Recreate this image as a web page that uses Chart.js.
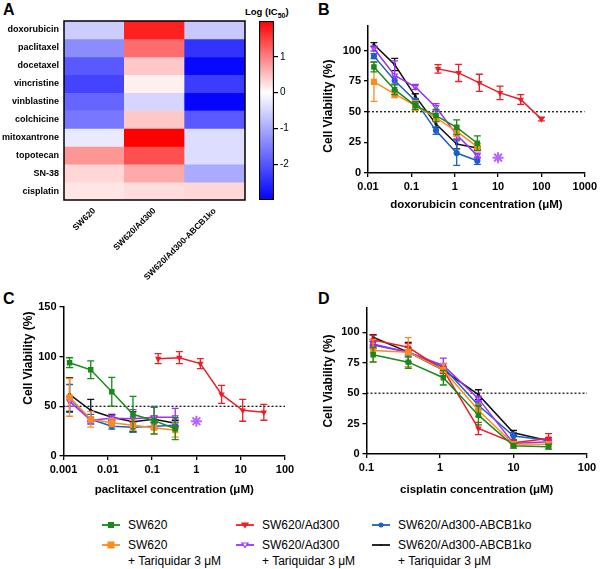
<!DOCTYPE html>
<html><head><meta charset="utf-8">
<script src="https://cdn.jsdelivr.net/npm/chart.js@4.4.1/dist/chart.umd.min.js"></script>
<style>
html,body{margin:0;padding:0;background:#fff;}
body{width:600px;height:569px;position:relative;overflow:hidden;font-family:"Liberation Sans",Arial,sans-serif;color:#000;}
canvas{position:absolute;}
.pl{position:absolute;font-weight:bold;font-size:16px;line-height:16px;}
.ttl{position:absolute;font-weight:bold;font-size:9.5px;white-space:nowrap;}
.leg{position:absolute;font-size:12px;line-height:16px;white-space:nowrap;}
.leg svg{position:absolute;left:0;top:4px;}
.leg span{position:absolute;left:26px;top:0;}
</style></head><body>
<div class="pl" style="left:3px;top:2px">A</div>
<div class="pl" style="left:318px;top:2px">B</div>
<div class="pl" style="left:3px;top:291px">C</div>
<div class="pl" style="left:318px;top:291px">D</div>
<div class="ttl" style="left:245px;top:6px">Log (IC<sub style="font-size:7px">50</sub>)</div>
<canvas id="cA" width="250" height="280" style="left:0;top:0"></canvas>
<canvas id="cBar" width="45" height="210" style="left:255px;top:0"></canvas>
<canvas id="cB" width="300" height="215" style="left:300px;top:0"></canvas>
<canvas id="cC" width="300" height="220" style="left:0;top:280px"></canvas>
<canvas id="cD" width="300" height="220" style="left:300px;top:280px"></canvas>
<div id="legend"></div>
<script>
// ---------- DATA ----------
const drugs = ['doxorubicin','paclitaxel','docetaxel','vincristine','vinblastine','colchicine','mitoxantrone','topotecan','SN-38','cisplatin'];
const cellLines = ['SW620','SW620/Ad300','SW620/Ad300-ABCB1ko'];
const icSW620 = [-0.6,-1.35,-1.95,-2.2,-1.8,-1.6,-0.25,0.82,0.31,0.2];
const icAd300 = [1.75,1.15,0.43,0.12,-0.5,0.43,2.0,1.37,0.67,0.27];
const icKO    = [-0.65,-2.4,-2.9,-2.3,-2.95,-1.95,-0.4,-0.4,-1.0,0.31];
const colorbarRange = [-3, 2];
const colorbarTicks = [-2,-1,0,1];

const seriesNames = ['SW620','SW620\n+ Tariquidar 3 μM','SW620/Ad300','SW620/Ad300\n+ Tariquidar 3 μM','SW620/Ad300-ABCB1ko','SW620/Ad300-ABCB1ko\n+ Tariquidar 3 μM'];

// B: doxorubicin
const doxConc      = [0.0137,0.0412,0.123,0.37,1.11,3.33];
const doxConcAd300 = [0.412,1.23,3.7,11.1,33.3,100];
const doxSW620   = [86.6,68,55,46.9,37.3,24.3];   const doxSW620Err   = [4,4,3,5,6,6];
const doxSW620T  = [74.4,64.6,55,45,34,21.3];     const doxSW620TErr  = [16,3,4,3,4,3];
const doxAd300   = [85,81.7,73.6,65.4,60,44];     const doxAd300Err   = [3.5,7,7,5.5,4,1.5];
const doxAd300T  = [101.6,79.6,70.3,53.7,31.3,14.2]; const doxAd300TErr = [2,12,2,3,4,2];
const doxKO      = [95.4,75.5,59,34.6,16.3,10];   const doxKOErr      = [2,3,2,3,10,3];
const doxKOT     = [104.9,88.5,62.7,40,23.7,20.4]; const doxKOTErr    = [1.5,5,2,3,4,1];
const doxStar    = [10, 12.5];
const doxXTicks  = [0.01,0.1,1,10,100,1000];

// C: paclitaxel
const ptxConc      = [0.00137,0.00412,0.0123,0.037,0.111,0.333];
const ptxConcAd300 = [0.137,0.412,1.23,3.7,11.1,33.3];
const ptxSW620   = [93.9,86.8,64.7,42,35.6,27.5]; const ptxSW620Err  = [5,9,14.5,18,13.5,11];
const ptxSW620T  = [59,37,33.5,31,28.5,26];       const ptxSW620TErr = [19,8,4,5,6,7];
const ptxAd300   = [98,99,93,62,46,44];           const ptxAd300Err  = [5,6,5,9,11,8];
const ptxAd300T  = [55,36,38,37.6,39,39];         const ptxAd300TErr = [5,3,3,9,11,9];
const ptxKO      = [58,37,30,29,30,31];           const ptxKOErr     = [14,5,3,5,3,3];
const ptxKOT     = [62,46,39,34.6,37,33];         const ptxKOTErr    = [17,11,3,10,3,3];
const ptxStar    = [1, 35];
const ptxXTicks  = [0.001,0.01,0.1,1,10,100];

// D: cisplatin
const cisConc    = [0.123,0.37,1.11,3.33,10,30];
const cisSW620   = [81.5,75.5,62.7,31.9,6.8,6];   const cisSW620Err  = [6,5,6,8,2,2];
const cisSW620T  = [85,83.7,69.2,36,8.2,8];       const cisSW620TErr = [9,12,5,5,2,2];
const cisAd300   = [93.7,87.7,69,21,9.3,12.8];    const cisAd300Err  = [4,3,3,5,2,4];
const cisAd300T  = [90.5,83.7,72.8,45.5,8.7,10];  const cisAd300TErr = [2,2,6,2,2,2];
const cisKO      = [89.6,83.7,71.4,40,14.7,11.4]; const cisKOErr     = [3,4,3,3,3,2];
const cisKOT     = [96,83.7,69,48.8,17.4,10.9];   const cisKOTErr    = [2,8,2,4,2,1];
const cisXTicks  = [0.1,1,10,100];

// ---------- STYLE ----------
const FONT = "'Liberation Sans', Arial, Helvetica, sans-serif";
Chart.defaults.font.family = FONT;
Chart.defaults.color = '#000';
Chart.defaults.animation = false;
const seriesStyle = [
  {color:'#178a17', pointStyle:'rect', radius:3, fill:'#178a17', rot:0},
  {color:'#ff8a1e', pointStyle:'rect', radius:3.5, fill:'#ff8a1e', rot:0},
  {color:'#ee1c24', pointStyle:'triangle', radius:2.5, fill:'#ee1c24', rot:180},
  {color:'#9b30ff', pointStyle:'triangle', radius:3, fill:'#ffffff', rot:180},
  {color:'#1c5fc8', pointStyle:'circle', radius:2.5, fill:'#1c5fc8', rot:0},
  {color:'#111111', pointStyle:'circle', radius:1, fill:'#111111', rot:0}
];
const starColor = '#b866ff';

// ---------- HEATMAP ----------
function heatColor(v){
  const [lo,hi] = colorbarRange;
  if (v >= 0){ const t = Math.min(1, v/hi); const c = Math.round(255*(1-t)); return `rgb(255,${c},${c})`; }
  const t = Math.min(1, v/lo); const c = Math.round(255*(1-t)); return `rgb(${c},${c},255)`;
}
const frame = {id:'frame', afterDatasetsDraw(chart){
  const {ctx, chartArea:a} = chart; ctx.save(); ctx.strokeStyle='#000'; ctx.lineWidth=1.5;
  ctx.strokeRect(a.left, a.top, a.right-a.left, a.bottom-a.top); ctx.restore(); }};
const icCols = [icSW620, icAd300, icKO];
new Chart(document.getElementById('cA'), {
  type:'bar',
  data:{ labels: cellLines,
    datasets: drugs.map((d,i)=>({ label:d, data: cellLines.map(()=>1),
      backgroundColor: icCols.map(col=>heatColor(col[i])), borderWidth:0,
      barPercentage:1, categoryPercentage:1 })) },
  options:{ responsive:false, layout:{padding:{top:21,right:5,left:0,bottom:0}},
    plugins:{legend:{display:false}, tooltip:{enabled:false}},
    scales:{
      x:{ stacked:true, grid:{display:false, drawTicks:false}, border:{display:false},
        ticks:{ minRotation:45, maxRotation:45, autoSkip:false, padding:6, font:{size:8.5, weight:'bold'} },
        afterFit(s){ s.height = 80; } },
      y:{ stacked:true, reverse:true, min:0, max:drugs.length, grid:{display:false, drawTicks:false}, border:{display:false},
        afterBuildTicks(s){ s.ticks = drugs.map((d,i)=>({value:i+0.5})); },
        ticks:{ autoSkip:false, padding:5, font:{size:9, weight:'bold'}, callback:(v)=>drugs[Math.floor(v)] },
        afterFit(s){ s.width = 64; } }
    } },
  plugins:[frame]
});

// colour bar
new Chart(document.getElementById('cBar'), {
  type:'bar',
  data:{ labels:[''], datasets:[{ data:[colorbarRange], borderColor:'#000', borderWidth:1.5, borderSkipped:false,
    barPercentage:1, categoryPercentage:1,
    backgroundColor(c){ const ch=c.chart; if(!ch.chartArea) return '#fff'; const y=ch.scales.y;
      const g = ch.ctx.createLinearGradient(0, y.getPixelForValue(colorbarRange[0]), 0, y.getPixelForValue(colorbarRange[1]));
      const z = (0-colorbarRange[0])/(colorbarRange[1]-colorbarRange[0]);
      g.addColorStop(0,'rgb(0,0,255)'); g.addColorStop(z,'#ffffff'); g.addColorStop(1,'rgb(255,0,0)'); return g; } }] },
  options:{ responsive:false, layout:{padding:{top:21,left:4,right:0,bottom:10}},
    plugins:{legend:{display:false}, tooltip:{enabled:false}},
    scales:{
      x:{ display:false },
      y:{ position:'right', min:colorbarRange[0], max:colorbarRange[1],
        afterBuildTicks(s){ s.ticks = colorbarTicks.map(v=>({value:v})); },
        grid:{display:true, drawOnChartArea:false, drawTicks:true, tickLength:4, color:'#000', lineWidth:1.2},
        border:{display:false},
        ticks:{ padding:2, font:{size:10}, callback:(v)=>String(v) },
        afterFit(s){ s.width = 26; } }
    } }
});

// ---------- CURVES ----------
const errorBars = {id:'errorBars', afterDatasetDraw(chart, args){
  const ds = chart.data.datasets[args.index]; if(!ds.errors) return;
  const ctx = chart.ctx, y = chart.scales.y; ctx.save();
  ctx.strokeStyle = ds.borderColor; ctx.lineWidth = 1.3;
  args.meta.data.forEach((p,i)=>{ const v = ds.data[i].y, e = ds.errors[i];
    const y1 = y.getPixelForValue(v+e), y2 = y.getPixelForValue(v-e), x = p.x;
    ctx.beginPath(); ctx.moveTo(x,y1); ctx.lineTo(x,y2);
    ctx.moveTo(x-3.5,y1); ctx.lineTo(x+3.5,y1); ctx.moveTo(x-3.5,y2); ctx.lineTo(x+3.5,y2); ctx.stroke(); });
  ctx.restore(); }};

function pts(xs, ys){ return xs.map((x,i)=>({x, y:ys[i]})); }
function curveChart(id, cfg){
  const ds = cfg.series.map((s,i)=>({ label:seriesNames[i], data:pts(s[0], s[1]), errors:s[2],
    borderColor:seriesStyle[i].color, backgroundColor:seriesStyle[i].fill, borderWidth:1.5,
    pointStyle:seriesStyle[i].pointStyle, pointRadius:seriesStyle[i].radius, pointRotation:seriesStyle[i].rot,
    pointBorderColor:seriesStyle[i].color, pointBorderWidth:1.2, tension:0 }));
  ds.push({ label:'star', data:[{x:cfg.star[0], y:cfg.star[1]}], showLine:false, pointStyle:'star',
    pointRadius:5.5, pointBorderWidth:2, borderColor:starColor, pointBorderColor:starColor });
  ds.push({ label:'50%', data:[{x:cfg.xmin,y:50},{x:cfg.xmax,y:50}], borderColor:'#000', borderWidth:1.2,
    borderDash:[2,2], pointRadius:0 });
  const axisGrid = {display:true, drawOnChartArea:false, drawTicks:true, tickLength:4, color:'#000', lineWidth:1.3};
  const yTitle = ' '.repeat(cfg.lead) + 'Cell Viability (%)' + ' '.repeat(cfg.trail);
  new Chart(document.getElementById(id), {
    type:'line', data:{ datasets: ds },
    options:{ responsive:false, layout:{padding:{top:cfg.top, right:cfg.right, left:0, bottom:0}},
      plugins:{legend:{display:false}, tooltip:{enabled:false}},
      scales:{
        x:{ type:'logarithmic', min:cfg.xmin, max:cfg.xmax,
          afterBuildTicks(s){ s.ticks = cfg.xticks.map(v=>({value:v})); },
          grid:axisGrid, border:{display:true, color:'#000', width:1.5},
          ticks:{ autoSkip:false, maxRotation:0, padding:3, font:{size:11, weight:'bold'}, callback:(v)=>String(v) },
          title:{ display:true, text:cfg.xTitle, font:{size:11.5, weight:'bold'}, padding:{top:0, bottom:3} },
          afterFit(s){ s.height = cfg.xh; } },
        y:{ min:0, max:cfg.ymax,
          afterBuildTicks(s){ s.ticks = cfg.yticks.map(v=>({value:v})); },
          grid:axisGrid, border:{display:true, color:'#000', width:1.5},
          ticks:{ autoSkip:false, padding:3, font:{size:11, weight:'bold'}, callback:(v)=>String(v) },
          title:{ display:true, text:yTitle, font:{size:12, weight:'bold'}, padding:{top:21.5, bottom:0} },
          afterFit(s){ s.width = cfg.yw; } }
      } },
    plugins:[errorBars]
  });
}

curveChart('cB', { xmin:0.01, xmax:1000, xticks:doxXTicks, ymax:120, yticks:[0,25,50,75,100],
  top:26, right:13, yw:68, xh:42, lead:0, trail:4, xTitle:'doxorubicin concentration (μM)', star:doxStar,
  series:[[doxConc,doxSW620,doxSW620Err],[doxConc,doxSW620T,doxSW620TErr],[doxConcAd300,doxAd300,doxAd300Err],
          [doxConc,doxAd300T,doxAd300TErr],[doxConc,doxKO,doxKOErr],[doxConc,doxKOT,doxKOTErr]] });
curveChart('cC', { xmin:0.001, xmax:100, xticks:ptxXTicks, ymax:150, yticks:[0,50,100,150],
  top:27, right:15, yw:63.5, xh:44, lead:14, trail:0, xTitle:'paclitaxel concentration (μM)', star:ptxStar,
  series:[[ptxConc,ptxSW620,ptxSW620Err],[ptxConc,ptxSW620T,ptxSW620TErr],[ptxConcAd300,ptxAd300,ptxAd300Err],
          [ptxConc,ptxAd300T,ptxAd300TErr],[ptxConc,ptxKO,ptxKOErr],[ptxConc,ptxKOT,ptxKOTErr]] });
curveChart('cD', { xmin:0.1, xmax:100, xticks:cisXTicks, ymax:120, yticks:[0,25,50,75,100],
  top:28, right:13, yw:66.5, xh:46, lead:0, trail:0, xTitle:'cisplatin concentration (μM)', star:[null,null],
  series:[[cisConc,cisSW620,cisSW620Err],[cisConc,cisSW620T,cisSW620TErr],[cisConc,cisAd300,cisAd300Err],
          [cisConc,cisAd300T,cisAd300TErr],[cisConc,cisKO,cisKOErr],[cisConc,cisKOT,cisKOTErr]] });

// ---------- LEGEND ----------
const legPos = [[102,517],[102,537],[236,517],[236,537],[372,517],[372,537]];
const leg = document.getElementById('legend');
seriesNames.forEach((n,i)=>{
  const s = seriesStyle[i]; const d = document.createElement('div'); d.className='leg';
  d.style.left = legPos[i][0]+'px'; d.style.top = legPos[i][1]+'px';
  let m = '';
  if (s.pointStyle==='rect') m = `<rect x="${9-s.radius}" y="${4-s.radius}" width="${2*s.radius}" height="${2*s.radius}" fill="${s.fill}"/>`;
  else if (s.pointStyle==='circle') m = `<circle cx="9" cy="4" r="${s.radius}" fill="${s.fill}"/>`;
  else m = `<polygon points="6,2 12,2 9,6.5" fill="${s.fill}" stroke="${s.color}" stroke-width="1.2"/>`;
  d.innerHTML = `<svg width="18" height="8"><line x1="0" y1="4" x2="18" y2="4" stroke="${s.color}" stroke-width="1.8"/>${m}</svg><span>${n.replace('\n','<br>')}</span>`;
  leg.appendChild(d);
});
</script>
</body></html>
